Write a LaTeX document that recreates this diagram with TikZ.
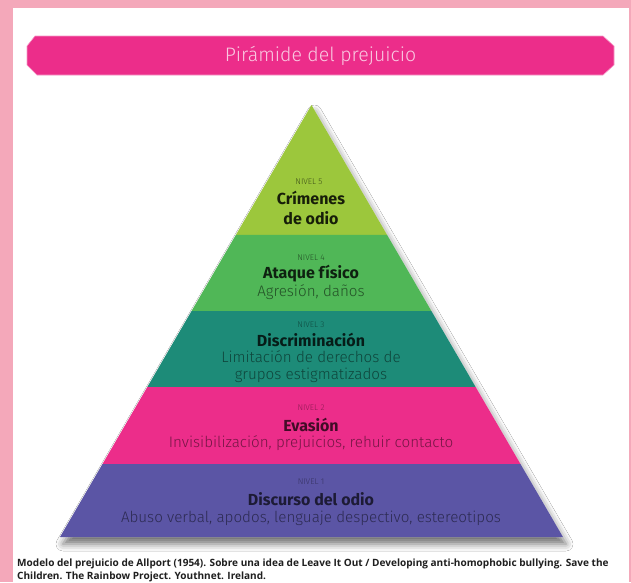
\documentclass[tikz,border=0pt]{standalone}
\usepackage{fontspec}
\setmainfont{Fira Sans}
\newfontfamily\lightfont{Fira Sans Light}
\newfontfamily\capfont{Open Sans}
\usetikzlibrary{calc,shadows.blur}
\definecolor{border}{HTML}{F4A8BA}
\definecolor{barpink}{HTML}{EC2D8A}
\definecolor{bartext}{HTML}{F9C9E1}
\definecolor{lvA}{HTML}{9CC73C}
\definecolor{lvB}{HTML}{50B757}
\definecolor{lvC}{HTML}{1D8B78}
\definecolor{lvD}{HTML}{EC2D8A}
\definecolor{lvE}{HTML}{5B55A5}
\tikzset{
  lvlabel/.style={font=\lightfont\fontsize{8.3}{9}\selectfont, inner sep=0pt},
  lvtitle/.style={font=\bfseries\fontsize{16}{19.5}\selectfont, inner sep=0pt, align=center},
  lvdesc/.style={font=\lightfont\fontsize{15.2}{17}\selectfont, inner sep=0pt, align=center},
  captext/.style={anchor=base west, inner sep=0pt, font=\capfont\bfseries\fontsize{10.05}{12}\selectfont, text=black!88},
}
\begin{document}
\begin{tikzpicture}[x=1pt,y=-1pt]
\useasboundingbox (0,0) rectangle (631,582);
% frame
\fill[border] (0,0) rectangle (631,582);
\fill[white] (13,8) rectangle (629,582);
% title bar
\path[fill=barpink, draw=bartext!70!barpink, line width=0.6pt]
  (35,36) -- (603,36) -- (614,46) -- (614,65) -- (603,75) -- (37,75) -- (27,65) -- (27,46) -- cycle;
\node[font=\lightfont\fontsize{19.5}{22}\selectfont, text=bartext, inner sep=0pt] (title) at (320.5,56) {Pirámide del prejuicio};
% pyramid geometry
\coordinate (A) at (311.5,105);
\coordinate (BL) at (60,537);
\coordinate (BR) at (563,537);
\coordinate (L1) at ($(A)!0.3009!(BL)$); \coordinate (R1) at ($(A)!0.3009!(BR)$);
\coordinate (L2) at ($(A)!0.4769!(BL)$); \coordinate (R2) at ($(A)!0.4769!(BR)$);
\coordinate (L3) at ($(A)!0.6528!(BL)$); \coordinate (R3) at ($(A)!0.6528!(BR)$);
\coordinate (L4) at ($(A)!0.8310!(BL)$); \coordinate (R4) at ($(A)!0.8310!(BR)$);
% shadow
\fill[white, blur shadow={shadow xshift=3pt, shadow yshift=-7pt, shadow blur radius=7pt, shadow opacity=55}] (A) -- (BR) -- (BL) -- cycle;
% tiers
\fill[lvA] (A) -- (R1) -- (L1) -- cycle;
\fill[lvB] (L1) -- (R1) -- (R2) -- (L2) -- cycle;
\fill[lvC] (L2) -- (R2) -- (R3) -- (L3) -- cycle;
\fill[lvD] (L3) -- (R3) -- (R4) -- (L4) -- cycle;
\fill[lvE] (L4) -- (R4) -- (BR) -- (BL) -- cycle;
% level 5
\node[lvlabel, text=black!60!lvA] (n5) at (309,182) {NIVEL 5};
\node[lvtitle, text=black!85!lvA] (t5) at (311,208) {Crímenes\\de odio};
% level 4
\node[lvlabel, text=black!55!lvB] (n4) at (311,258) {NIVEL 4};
\node[lvtitle, text=black!82!lvB] (t4) at (311,274) {Ataque físico};
\node[lvdesc, text=black!55!lvB] (d4) at (311,292) {Agresión, daños};
% level 3
\node[lvlabel, text=black!45!lvC] (n3) at (311,325) {NIVEL 3};
\node[lvtitle, text=black!80!lvC] (t3) at (311,340) {Discriminación};
\node[lvdesc, text=black!50!lvC] (d3) at (311,366.5) {Limitación de derechos de\\grupos estigmatizados};
% level 2
\node[lvlabel, text=black!40!lvD] (n2) at (311,408) {NIVEL 2};
\node[lvtitle, text=black!72!lvD] (t2) at (311,425) {Evasión};
\node[lvdesc, text=black!50!lvD] (d2) at (311,443) {Invisibilización, prejuicios, rehuir contacto};
% level 1
\node[lvlabel, text=black!40!lvE] (n1) at (311,482) {NIVEL 1};
\node[lvtitle, text=black!68!lvE] (t1) at (311,499) {Discurso del odio};
\node[lvdesc, text=black!50!lvE] (d1) at (311,518) {Abuso verbal, apodos, lenguaje despectivo, estereotipos};
% caption
\node[captext] (cap1) at (17,566) {Modelo del prejuicio de Allport (1954). Sobre una idea de Leave It Out / Developing anti-homophobic bullying. Save the};
\node[captext] (cap2) at (17,579) {Children. The Rainbow Project. Youthnet. Ireland.};
\end{tikzpicture}
\end{document}
